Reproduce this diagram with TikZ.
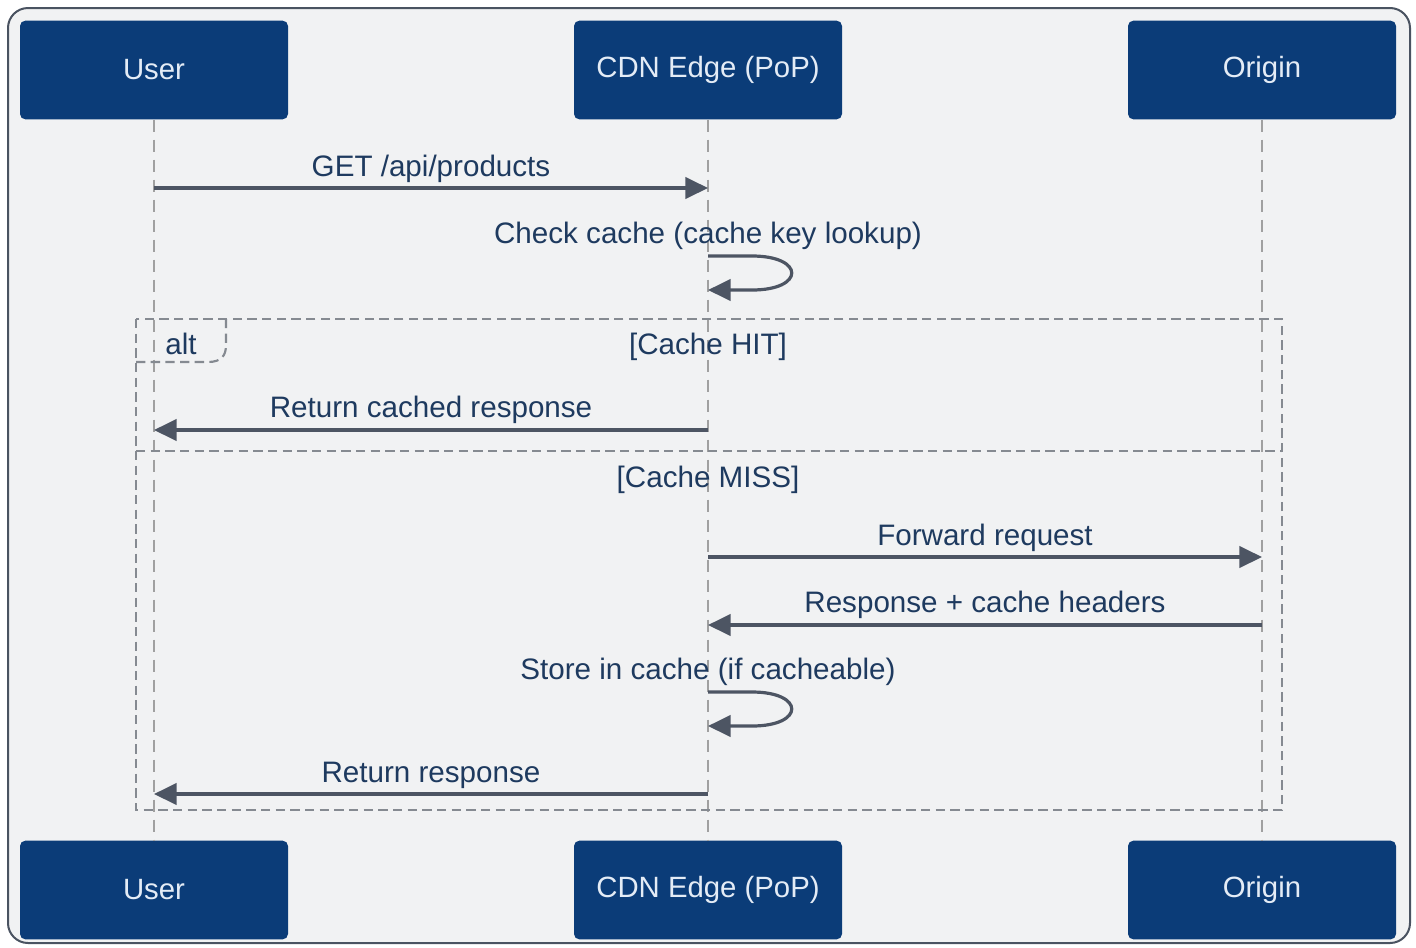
\documentclass[tikz,border=0pt]{standalone}
\usepackage{fontspec}
\setmainfont{Liberation Sans}
\usetikzlibrary{arrows.meta}
\definecolor{boxblue}{HTML}{0B3C78}
\definecolor{boxtext}{HTML}{E4ECF6}
\definecolor{msgtext}{HTML}{1E3A5F}
\definecolor{arrowc}{HTML}{4D5563}
\definecolor{lifec}{HTML}{A0A0A0}
\definecolor{framec}{HTML}{858A91}
\definecolor{bgc}{HTML}{F1F2F3}
\definecolor{outerc}{HTML}{4A5361}
\begin{document}
\begin{tikzpicture}[x=0.75pt,y=-0.75pt,
  actor/.style={fill=boxblue,rounded corners=4pt,minimum width=201pt,minimum height=74pt,
    text=boxtext,font=\fontsize{22}{24}\selectfont,inner sep=0pt},
  msg/.style={draw=arrowc,line width=2.4pt,-{Triangle[length=17pt,width=16pt]}},
  lbl/.style={text=msgtext,font=\fontsize{22.2}{24}\selectfont,inner sep=0pt,yshift=-2.2pt},
  life/.style={draw=lifec,line width=1.2pt,dash pattern=on 9pt off 6pt},
  altframe/.style={draw=framec,line width=1.6pt,dash pattern=on 7pt off 4pt}]
\useasboundingbox (0,0) rectangle (1416,947);
\fill[white] (0,0) rectangle (1416,947);
\draw[fill=bgc,draw=outerc,line width=1.5pt,rounded corners=15pt] (8,8) rectangle (1410,943);

% actors
\node[actor] (ut) at (154,70) {User};
\node[actor] (ct) at (708,70) {CDN Edge (PoP)};
\node[actor] (ot) at (1262,70) {Origin};
\node[actor] (ub) at (154,890) {User};
\node[actor] (cb) at (708,890) {CDN Edge (PoP)};
\node[actor] (ob) at (1262,890) {Origin};

% lifelines
\draw[life] (ut.south) -- (ub.north);
\draw[life] (ct.south) -- (cb.north);
\draw[life] (ot.south) -- (ob.north);

% alt frame
\draw[altframe] (136,319) rectangle (1282,810);
\draw[altframe] (136,451) -- (1282,451);
\draw[altframe] (136,362) -- (208,362) .. controls (222,362) and (226,355) .. (226,345) -- (226,319);
\node[lbl] (alt) at (181,341) {alt};
\node[lbl] (hit) at (708,344) {[Cache HIT]};
\node[lbl] (miss) at (708,477) {[Cache MISS]};

% message coordinates
\coordinate (u1) at (154,188); \coordinate (c1) at (708,188);
\coordinate (u2) at (154,430); \coordinate (c2) at (708,430);
\coordinate (c3) at (708,557); \coordinate (o3) at (1262,557);
\coordinate (c4) at (708,625); \coordinate (o4) at (1262,625);
\coordinate (u5) at (154,794); \coordinate (c5) at (708,794);
\coordinate (s1a) at (708,256); \coordinate (s1b) at (708,290);
\coordinate (s2a) at (708,692); \coordinate (s2b) at (708,726);

% messages
\draw[msg] (u1) -- (c1);
\node[lbl] (l1) at (431,166) {GET /api/products};

\node[lbl] (l2) at (708,233) {Check cache (cache key lookup)};
\draw[msg] (s1a) -- ++(44,0) .. controls +(53,0) and +(53,0) .. ([xshift=44*0.75pt]s1b) -- (s1b);

\draw[msg] (c2) -- (u2);
\node[lbl] (l3) at (431,407) {Return cached response};

\draw[msg] (c3) -- (o3);
\node[lbl] (l4) at (985,535) {Forward request};

\draw[msg] (o4) -- (c4);
\node[lbl] (l5) at (985,602) {Response + cache headers};

\node[lbl] (l6) at (708,669) {Store in cache (if cacheable)};
\draw[msg] (s2a) -- ++(44,0) .. controls +(53,0) and +(53,0) .. ([xshift=44*0.75pt]s2b) -- (s2b);

\draw[msg] (c5) -- (u5);
\node[lbl] (l7) at (431,772) {Return response};
\end{tikzpicture}
\end{document}
